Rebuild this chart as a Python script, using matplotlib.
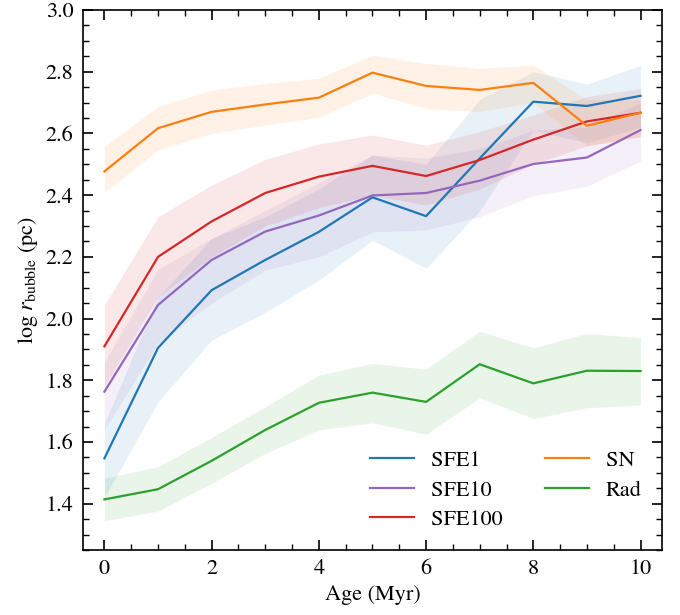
import matplotlib
matplotlib.use("Agg")
import matplotlib.pyplot as plt
from matplotlib.ticker import MultipleLocator

plt.rcParams['font.family'] = ['STIXGeneral', 'DejaVu Serif']
plt.rcParams['mathtext.fontset'] = 'stix'

age = [0, 1, 2, 3, 4, 5, 6, 7, 8, 9, 10]

sfe1 = [1.547, 1.905, 2.092, 2.190, 2.281, 2.393, 2.332, 2.519, 2.703, 2.689, 2.722]
sfe1_lo = [1.42, 1.73, 1.93, 2.02, 2.125, 2.254, 2.163, 2.35, 2.61, 2.57, 2.62]
sfe1_hi = [1.66, 2.07, 2.26, 2.33, 2.42, 2.53, 2.50, 2.71, 2.80, 2.76, 2.82]

sfe10 = [1.763, 2.044, 2.190, 2.282, 2.334, 2.399, 2.407, 2.447, 2.501, 2.522, 2.611]
sfe10_lo = [1.64, 1.92, 2.05, 2.157, 2.20, 2.281, 2.287, 2.330, 2.398, 2.429, 2.511]
sfe10_hi = [1.86, 2.16, 2.26, 2.35, 2.44, 2.53, 2.52, 2.55, 2.61, 2.62, 2.70]

sfe100 = [1.910, 2.200, 2.315, 2.407, 2.460, 2.495, 2.462, 2.514, 2.580, 2.639, 2.667]
sfe100_lo = [1.78, 2.07, 2.20, 2.30, 2.36, 2.40, 2.368, 2.42, 2.50, 2.56, 2.59]
sfe100_hi = [2.044, 2.330, 2.433, 2.516, 2.566, 2.595, 2.562, 2.606, 2.660, 2.719, 2.746]

sn = [2.477, 2.617, 2.670, 2.694, 2.716, 2.797, 2.754, 2.741, 2.764, 2.625, 2.667]
sn_lo = [2.409, 2.546, 2.600, 2.627, 2.652, 2.730, 2.681, 2.671, 2.70, 2.559, 2.59]
sn_hi = [2.557, 2.687, 2.741, 2.762, 2.779, 2.854, 2.827, 2.811, 2.822, 2.71, 2.71]

rad = [1.414, 1.447, 1.539, 1.639, 1.727, 1.760, 1.730, 1.852, 1.790, 1.831, 1.830]
rad_lo = [1.345, 1.376, 1.466, 1.563, 1.639, 1.662, 1.625, 1.743, 1.676, 1.711, 1.720]
rad_hi = [1.483, 1.520, 1.615, 1.714, 1.817, 1.855, 1.836, 1.959, 1.905, 1.952, 1.938]

runs = [
    ("SFE1", sfe1, sfe1_lo, sfe1_hi, "tab:blue"),
    ("SFE10", sfe10, sfe10_lo, sfe10_hi, "tab:purple"),
    ("SFE100", sfe100, sfe100_lo, sfe100_hi, "tab:red"),
    ("SN", sn, sn_lo, sn_hi, "tab:orange"),
    ("Rad", rad, rad_lo, rad_hi, "tab:green"),
]

fig = plt.figure(figsize=(6.8, 6.15), dpi=100)
ax = fig.add_axes([0.122, 0.1057, 0.8515, 0.878])

for name, y, lo, hi, c in runs:
    ax.fill_between(age, lo, hi, color=c, alpha=0.1, linewidth=0)
    ax.plot(age, y, color=c, lw=1.6, label=name)

ax.set_xlim(-0.4, 10.4)
ax.set_ylim(1.25, 3.0)
ax.xaxis.set_major_locator(MultipleLocator(2))
ax.xaxis.set_minor_locator(MultipleLocator(0.5))
ax.yaxis.set_major_locator(MultipleLocator(0.2))
ax.yaxis.set_minor_locator(MultipleLocator(0.05))
ax.tick_params(which='both', direction='in', top=True, right=True, labelsize=16)
ax.tick_params(which='major', length=7, width=1.2, pad=7)
ax.tick_params(which='minor', length=4, width=1.0)
for s in ax.spines.values():
    s.set_linewidth(1.2)

ax.set_xlabel("Age (Myr)", fontsize=16)
ax.set_ylabel(r"$\log\,r_{\rm bubble}$ (pc)", fontsize=16)

ax.legend(loc='lower right', ncol=2, frameon=False, fontsize=16,
          handlelength=2.0, handletextpad=0.75, columnspacing=1.9,
          labelspacing=0.4)

fig.savefig("out.png", dpi=100)
